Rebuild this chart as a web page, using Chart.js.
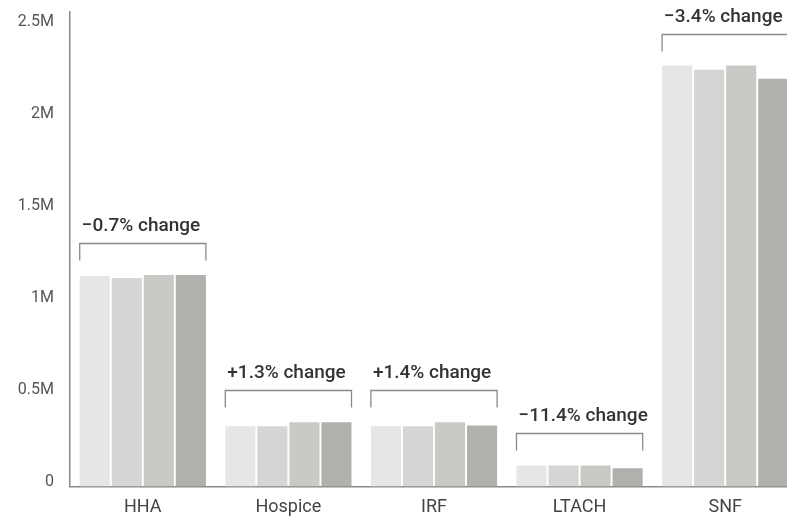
<!DOCTYPE html>
<html>
<head>
<meta charset="utf-8">
<script src="https://cdn.jsdelivr.net/npm/chart.js@4/dist/chart.umd.min.js"></script>
<style>
  html, body { margin: 0; padding: 0; background: #fff; overflow: hidden; }
  /* the top tick sits below the axis end, so lift the canvas a little */
  #wrap { width: 798px; height: 542px; margin-top: -14px; }
</style>
</head>
<body>
<div id="wrap"><canvas id="myChart"></canvas></div>
<script>
// settings and their patient counts, four periods each
const categories = ["HHA", "Hospice", "IRF", "LTACH", "SNF"];
const period1 = [1141000, 326000, 326000, 114000, 2283000];
const period2 = [1130000, 326000, 326000, 114000, 2261000];
const period3 = [1147000, 348000, 348000, 114000, 2283000];
const period4 = [1147000, 348000, 330000, 98000, 2212000];
const changeLabels = ["\u22120.7% change", "+1.3% change", "+1.4% change", "\u221211.4% change", "\u22123.4% change"];
const yTickValues = [0, 500000, 1000000, 1500000, 2000000, 2500000];
const yTickLabels = ["0", "0.5M", "1M", "1.5M", "2M", "2.5M"];

const barColors = ["#e6e6e6", "#d5d6d3", "#c9cac6", "#b0b0ac"];
const FONT = "Roboto, 'Noto Sans', sans-serif";

// bracket + "x% change" label over each group of bars
const changeBrackets = {
    id: "changeBrackets",
    afterDatasetsDraw(chart) {
        const ctx = chart.ctx;
        const first = chart.getDatasetMeta(0).data;
        const last = chart.getDatasetMeta(chart.data.datasets.length - 1).data;
        const y = chart.scales.y;
        ctx.save();
        for (let i = 0; i < categories.length; i++) {
            let top = Infinity;
            chart.data.datasets.forEach(ds => { top = Math.min(top, y.getPixelForValue(ds.data[i])); });
            const left = first[i].x - first[i].width / 2;
            const right = last[i].x + last[i].width / 2;
            const bTop = Math.round(top - 32) + 0.5;
            const bBot = bTop + 17;
            ctx.strokeStyle = "#8a8a8a";
            ctx.lineWidth = 1.3;
            ctx.beginPath();
            ctx.moveTo(left, bBot);
            ctx.lineTo(left, bTop);
            ctx.lineTo(right, bTop);
            ctx.lineTo(right, bBot);
            ctx.stroke();
            ctx.fillStyle = "#333";
            ctx.font = "500 19px " + FONT;
            ctx.textAlign = "left";
            ctx.textBaseline = "middle";
            ctx.fillText(changeLabels[i], left + 2, bTop - 17);
        }
        ctx.restore();
    }
};

new Chart("myChart", {
    type: "bar",
    data: {
        labels: categories,
        datasets: [period1, period2, period3, period4].map((d, k) => ({
            label: "Period " + (k + 1),
            data: d,
            backgroundColor: barColors[k],
            borderWidth: 0,
            barPercentage: 0.94,
            categoryPercentage: 0.88
        }))
    },
    options: {
        responsive: true,
        maintainAspectRatio: false,
        animation: false,
        layout: { padding: 0 },
        plugins: { legend: { display: false }, tooltip: { enabled: false } },
        scales: {
            x: {
                grid: { display: false, drawTicks: false },
                border: { color: "#8a8a8a", width: 1.5 },
                ticks: { color: "#444", padding: 10, font: { family: FONT, size: 18 } }
            },
            y: {
                min: 0,
                max: 2576000,
                afterFit(s) { s.width = 70; },
                afterBuildTicks(s) { s.ticks = yTickValues.map(v => ({ value: v })); },
                grid: { display: false, drawTicks: false },
                border: { color: "#8a8a8a", width: 1.5 },
                ticks: {
                    color: "#555",
                    padding: 16,
                    labelOffset: -4,
                    font: { family: FONT, size: 16 },
                    callback: (v) => yTickLabels[yTickValues.indexOf(v)]
                }
            }
        }
    },
    plugins: [changeBrackets]
});
</script>
</body>
</html>
